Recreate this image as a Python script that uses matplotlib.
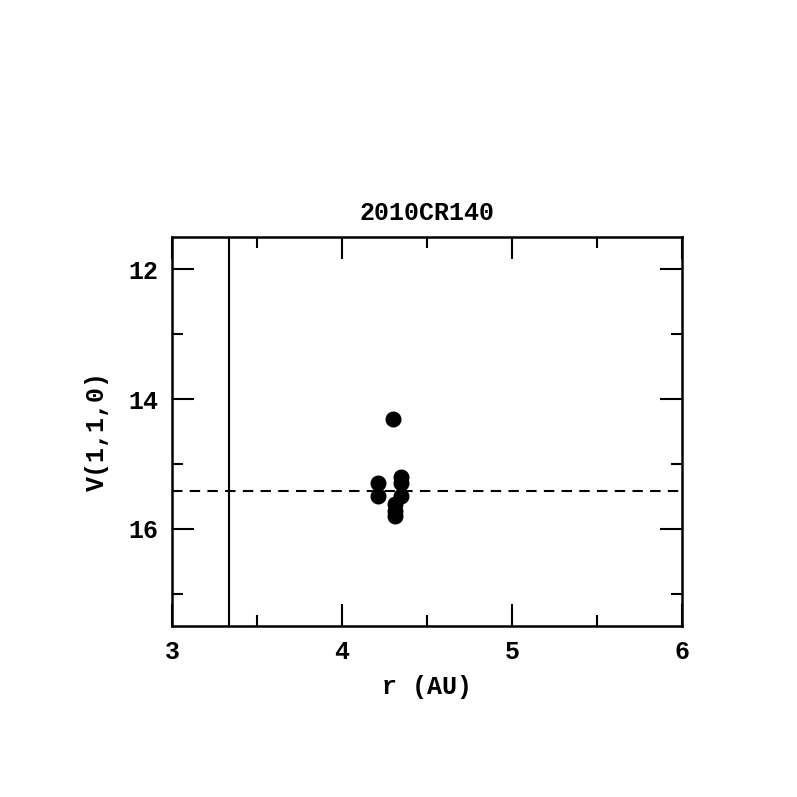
import matplotlib
matplotlib.use("Agg")
import matplotlib.pyplot as plt
from matplotlib.ticker import MultipleLocator

title = "2010CR140"
r_au = [4.30, 4.21, 4.21, 4.35, 4.35, 4.35, 4.31, 4.31, 4.31]
v110 = [14.3, 15.3, 15.5, 15.2, 15.3, 15.5, 15.62, 15.72, 15.8]
mean_v = 15.415
vline_x = 3.335

plt.rcParams['font.family'] = ['Liberation Mono', 'DejaVu Sans Mono']
plt.rcParams['font.weight'] = 'bold'
fig = plt.figure(figsize=(7.97, 7.97), dpi=100)
ax = fig.add_axes([0.2158, 0.2146, 0.6399, 0.4880])
ax.plot(r_au, v110, 'o', color='black', markersize=10.5)
ax.axhline(mean_v, color='black', lw=1.5, ls=(0, (5, 3.5)))
ax.axvline(vline_x, color='black', lw=1.5)
ax.set_xlim(3, 6)
ax.set_ylim(17.5, 11.5)
ax.xaxis.set_major_locator(MultipleLocator(1))
ax.xaxis.set_minor_locator(MultipleLocator(0.5))
ax.yaxis.set_major_locator(MultipleLocator(2))
ax.yaxis.set_minor_locator(MultipleLocator(1))
ax.tick_params(which='both', direction='in', top=True, right=True, width=1.5, labelsize=18, pad=10)
ax.tick_params(which='major', length=16)
ax.tick_params(which='minor', length=8)
for s in ax.spines.values():
    s.set_linewidth(1.8)
ax.set_xlabel('r (AU)', fontsize=18, labelpad=8, fontweight='bold')
ax.set_ylabel('V(1,1,0)', fontsize=18, labelpad=14, fontweight='bold')
ax.set_title(title, fontsize=18, pad=12, fontweight='bold')
fig.savefig('out.png', dpi=100)
